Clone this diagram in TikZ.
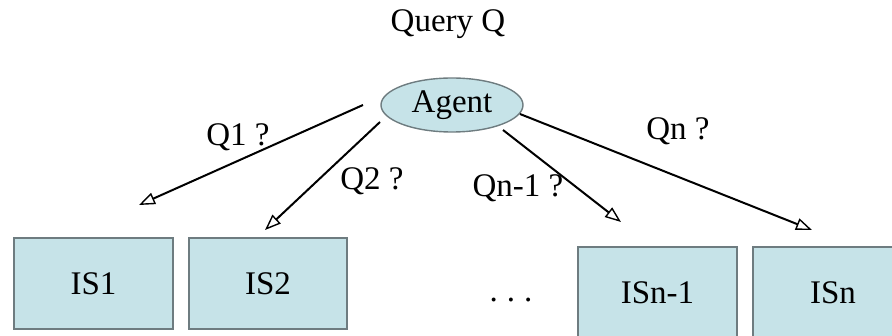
\documentclass[tikz,border=0pt]{standalone}
\usepackage{fontspec}
\setmainfont{Liberation Serif}
\usetikzlibrary{arrows.meta,shapes.geometric}
\definecolor{boxfill}{HTML}{C6E3E8}
\definecolor{boxline}{HTML}{6E7C80}
\begin{document}
\begin{tikzpicture}[x=1pt,y=-1pt,
  lbl/.style={font=\fontsize{33}{33}\selectfont, inner sep=0pt},
  isbox/.style={draw=boxline, line width=1.4pt, fill=boxfill, inner sep=0pt},
  query/.style={line width=2pt, -{Triangle[open,length=16pt,width=12pt,line width=1.4pt]}}]
  \useasboundingbox (0,0) rectangle (892,336);
  \begin{scope}
    \clip (0,0) rectangle (892,336);
    % information sources
    \node[isbox, minimum width=159pt, minimum height=91pt] (is1) at (93.5,283.5) {};
    \node[isbox, minimum width=158pt, minimum height=91pt] (is2) at (268,283.5) {};
    \node[isbox, minimum width=159pt, minimum height=92pt] (isn1) at (657.5,293) {};
    \node[isbox, minimum width=160pt, minimum height=92pt] (isn) at (833,293) {};
  \end{scope}
  \node[lbl] at (is1.center) {IS1};
  \node[lbl] at (is2.center) {IS2};
  \node[lbl] at (isn1.center) {ISn-1};
  \node[lbl] at (isn.center) {ISn};
  \node[lbl] (dots) at (511,300) {.\kern9pt.\kern9pt.};
  % agent
  \node[lbl] (q) at (448,24) {Query Q};
  \node[ellipse, draw=boxline, line width=1.4pt, fill=boxfill, minimum width=142pt, minimum height=54pt, inner sep=0pt] (agent) at (452,105) {};
  \node[lbl] at (agent.center) {Agent};
  % sub-query end points
  \coordinate (s1) at (363,105);  \coordinate (t1) at (139,205);
  \coordinate (s2) at (380,122);  \coordinate (t2) at (265,230);
  \coordinate (s3) at (503,130);  \coordinate (t3) at (621,222);
  \coordinate (s4) at (520,114);  \coordinate (t4) at (812,230);
  \draw[query] (s1) -- (t1);
  \draw[query] (s2) -- (t2);
  \draw[query] (s3) -- (t3);
  \draw[query] (s4) -- (t4);
  \node[lbl] (l1) at (238,137) {Q1 ?};
  \node[lbl] (l2) at (372,181) {Q2 ?};
  \node[lbl] (l3) at (518,188) {Qn-1 ?};
  \node[lbl] (l4) at (678,131) {Qn ?};
\end{tikzpicture}
\end{document}
